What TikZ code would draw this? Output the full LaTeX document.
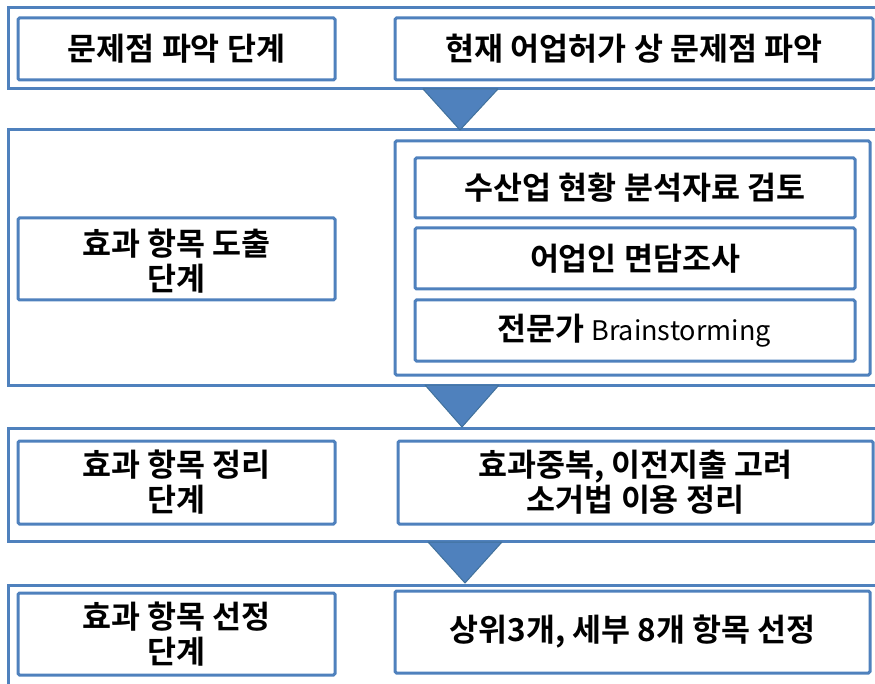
\documentclass[tikz,border=0pt]{standalone}
\usepackage{fontspec}
\newfontfamily\kr{Noto Sans CJK KR Bold}
\newfontfamily\krr{Noto Sans CJK KR}
\definecolor{boxblue}{HTML}{4F81BD}
\definecolor{triedge}{HTML}{41719C}
\begin{document}
\begin{tikzpicture}[x=1pt,y=-1pt,
  outerbox/.style={draw=boxblue,line width=3pt},
  innerbox/.style={draw=boxblue,line width=3pt,rounded corners=1.5pt,fill=white},
  lbl/.style={font=\kr\fontsize{31.5}{35}\selectfont,align=center,text=black},
  flowtri/.style={fill=boxblue,draw=triedge,line width=1pt,line join=round}]
\useasboundingbox (0,0) rectangle (875,684);
\clip (0,0) rectangle (875,684);
% outer stage containers
\draw[outerbox] (8,8) rectangle (890,89);
\draw[outerbox] (8,130) rectangle (890,385);
\draw[outerbox] (8,428) rectangle (890,541);
\draw[outerbox] (8,585) rectangle (890,700);
% triangles
\coordinate (t1a) at (423,89); \coordinate (t1b) at (498,89); \coordinate (t1c) at (460,130);
\coordinate (t2a) at (425,385); \coordinate (t2b) at (499,385); \coordinate (t2c) at (462,427);
\coordinate (t3a) at (428,542); \coordinate (t3b) at (502,542); \coordinate (t3c) at (465,583);
\draw[flowtri] (t1a) -- (t1b) -- (t1c) -- cycle;
\draw[flowtri] (t2a) -- (t2b) -- (t2c) -- cycle;
\draw[flowtri] (t3a) -- (t3b) -- (t3c) -- cycle;
% row 1
\draw[innerbox] (18,18) rectangle (335,80);
\node[lbl] (r1l) at (176.5,49) {문제점 파악 단계};
\draw[innerbox] (395,18) rectangle (873,80);
\node[lbl] (r1r) at (634,49) {현재 어업허가 상 문제점 파악};
% row 2
\draw[innerbox] (18,218) rectangle (335,300);
\node[lbl] (r2l) at (176.5,261) {효과 항목 도출\\단계};
\draw[innerbox] (395,141) rectangle (870,375);
\draw[innerbox] (415,158) rectangle (855,218);
\node[lbl] (r2a) at (635,188) {수산업 현황 분석자료 검토};
\draw[innerbox] (415,228) rectangle (855,289);
\node[lbl] (r2b) at (635,258.5) {어업인 면담조사};
\draw[innerbox] (415,300) rectangle (855,361);
\node[lbl] (r2c) at (634,330.5) {전문가 {\krr\fontsize{27}{30}\selectfont Brainstorming}};
% row 3
\draw[innerbox] (18,441) rectangle (335,524);
\node[lbl] (r3l) at (176.5,482.5) {효과 항목 정리\\단계};
\draw[innerbox] (398,441) rectangle (873,524);
\node[lbl] (r3r) at (635.5,482.5) {효과중복, 이전지출 고려\\소거법 이용 정리};
% row 4
\draw[innerbox] (18,593) rectangle (335,675);
\node[lbl] (r4l) at (176.5,634) {효과 항목 선정\\단계};
\draw[innerbox] (395,591) rectangle (870,673);
\node[lbl] (r4r) at (632.5,632) {상위3개, 세부 8개 항목 선정};
\end{tikzpicture}
\end{document}
